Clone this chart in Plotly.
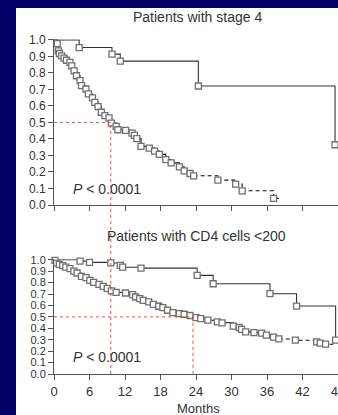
import plotly.graph_objects as go

# ---------------- data ----------------
# Top panel: Patients with stage 4
top_hi_months = [0, 4.25, 9.8, 11.2, 24.4, 47.5]
top_hi_surv = [1.0, 0.954, 0.914, 0.872, 0.721, 0.365]

top_lo_months = [0, 0.55, 0.73, 0.9, 1.3, 1.7, 2.1, 2.7, 3.0, 3.4, 3.8, 4.4, 4.65,
                 5.4, 5.8, 6.5, 6.9, 7.45, 8.0, 8.6, 9.3, 9.7, 10.5, 10.8, 12.1,
                 13.2, 13.6, 14.0, 14.7, 16.1, 17.0, 17.8, 18.9, 19.8, 21.2, 22.0,
                 23.0, 23.6, 27.7, 30.7, 31.8, 37.1]
top_lo_surv = [1.0, 0.978, 0.934, 0.918, 0.904, 0.89, 0.877, 0.864, 0.843, 0.813,
               0.783, 0.753, 0.723, 0.703, 0.673, 0.649, 0.622, 0.596, 0.562, 0.542,
               0.528, 0.496, 0.476, 0.456, 0.452, 0.436, 0.422, 0.402, 0.355, 0.345,
               0.327, 0.307, 0.275, 0.255, 0.231, 0.207, 0.191, 0.177, 0.151, 0.127,
               0.086, 0.04]
top_lo_tail = 38.0          # end of follow-up (censored tail)
top_dash_from = 23.6        # month after which curve is dashed
top_median = 9.6

# Bottom panel: Patients with CD4 cells <200
bot_hi_months = [0, 4.4, 6.0, 9.6, 11.2, 11.6, 14.7, 24.2, 26.9, 36.5, 41.0, 47.6]
bot_hi_surv = [1.0, 0.988, 0.977, 0.972, 0.95, 0.935, 0.927, 0.863, 0.79, 0.703,
               0.595, 0.296]

bot_lo_months = [0, 0.17, 0.45, 0.9, 1.46, 2.0, 2.7, 3.36, 3.9, 4.65, 5.4, 6.05,
                 6.7, 7.6, 8.3, 9.0, 9.7, 10.5, 12.1, 13.3, 13.8, 14.5, 15.1, 16.0,
                 16.8, 17.7, 18.4, 19.2, 20.1, 21.2, 22.0, 23.0, 24.0, 24.8, 26.0,
                 27.6, 28.4, 30.3, 31.3, 31.7, 32.4, 33.8, 35.1, 35.9, 37.1, 38.0,
                 40.8, 44.4, 45.0, 45.9]
bot_lo_surv = [1.0, 0.994, 0.971, 0.96, 0.948, 0.936, 0.922, 0.901, 0.884, 0.855,
               0.843, 0.82, 0.802, 0.785, 0.767, 0.75, 0.727, 0.715, 0.709, 0.695,
               0.674, 0.66, 0.645, 0.631, 0.61, 0.593, 0.581, 0.558, 0.538, 0.529,
               0.523, 0.512, 0.494, 0.485, 0.471, 0.456, 0.448, 0.419, 0.407, 0.39,
               0.369, 0.363, 0.357, 0.34, 0.322, 0.307, 0.296, 0.282, 0.27, 0.261]
bot_lo_tail = 47.2
bot_dash_from = 38.0
bot_median = 23.5

x_ticks = [0, 6, 12, 18, 24, 30, 36, 42, 48]
y_ticks = [0.0, 0.1, 0.2, 0.3, 0.4, 0.5, 0.6, 0.7, 0.8, 0.9, 1.0]

# ---------------- style ----------------
FONT = "Liberation Sans, Arial, sans-serif"
TXT = "#333333"
NAVY = "#000066"
AX = "#555555"
W, H = 338, 415
L = 54

def py2paper(py):
    return 1 - py / H

def px2paper(px):
    return (px - L) / (W - L)

top_dom = [py2paper(205), py2paper(39.3)]
bot_dom = [py2paper(374), py2paper(259.3)]

fig = go.Figure()

marker_fill = dict(symbol="square", size=6, color="white", line=dict(width=1.3, color="#707070"))

def add_curve(months, surv, xa, ya, color, dash_from=None, tail=None):
    if dash_from is None:
        fig.add_trace(go.Scatter(x=months, y=surv, mode="lines", line=dict(shape="hv", color=color, width=1.1),
                                 xaxis=xa, yaxis=ya, hoverinfo="skip", showlegend=False))
    else:
        k = months.index(dash_from)
        fig.add_trace(go.Scatter(x=months[:k + 1], y=surv[:k + 1], mode="lines",
                                 line=dict(shape="hv", color=color, width=1.1),
                                 xaxis=xa, yaxis=ya, hoverinfo="skip", showlegend=False))
        xs = months[k:] + ([tail] if tail is not None else [])
        ys = surv[k:] + ([surv[-1]] if tail is not None else [])
        fig.add_trace(go.Scatter(x=xs, y=ys, mode="lines",
                                 line=dict(shape="hv", color=color, width=1.1, dash="4px,3px"),
                                 xaxis=xa, yaxis=ya, hoverinfo="skip", showlegend=False))
    fig.add_trace(go.Scatter(x=months[1:], y=surv[1:], mode="markers", marker=marker_fill,
                             xaxis=xa, yaxis=ya, cliponaxis=False, hoverinfo="skip", showlegend=False))

add_curve(top_hi_months, top_hi_surv, "x", "y", "#333333")
add_curve(top_lo_months, top_lo_surv, "x", "y", "#111111", top_dash_from, top_lo_tail)
add_curve(bot_hi_months, bot_hi_surv, "x2", "y2", "#333333")
add_curve(bot_lo_months, bot_lo_surv, "x2", "y2", "#111111", bot_dash_from, bot_lo_tail)

RED = "rgba(255,40,40,0.85)"
red = dict(color=RED, width=1, dash="dot")
shapes = [
    # white panel
    dict(type="rect", xref="paper", yref="paper", x0=px2paper(16), x1=px2paper(345),
         y0=-0.02, y1=py2paper(8), fillcolor="white", line=dict(width=0), layer="below"),
    # top median lines
    dict(type="line", xref="x", yref="y", x0=0, x1=top_median, y0=0.5, y1=0.5, line=red),
    dict(type="line", xref="x", yref="paper", x0=top_median, x1=top_median,
         y0=bot_dom[0], y1=top_dom[0] + 0.5 * (top_dom[1] - top_dom[0]), line=red),
    # bottom median lines
    dict(type="line", xref="x2", yref="y2", x0=0, x1=bot_median, y0=0.5, y1=0.5, line=red),
    dict(type="line", xref="x2", yref="y2", x0=bot_median, x1=bot_median, y0=0.5, y1=0, line=red),
]

xcommon = dict(range=[0, 48], tickvals=x_ticks, ticks="outside", ticklen=5, tickcolor=AX,
               showline=True, linecolor=AX, linewidth=1, showgrid=False, zeroline=False,
               ticklabeloverflow="allow", automargin=False,
               tickfont=dict(family=FONT, size=13, color=TXT))
ycommon = dict(range=[0, 1.004], tickvals=y_ticks, tickformat=".1f", ticks="outside", ticklen=5,
               tickcolor=AX, showline=True, linecolor=AX, linewidth=1, showgrid=False,
               zeroline=False, automargin=False)

annotations = [
    dict(text="Patients with stage 4", x=px2paper(197.5), y=py2paper(16.5), xref="paper", yref="paper",
         showarrow=False, xanchor="center", yanchor="middle", font=dict(family=FONT, size=14, color=TXT)),
    dict(text="Patients with CD4 cells &lt;200", x=px2paper(196.7), y=py2paper(236), xref="paper", yref="paper",
         showarrow=False, xanchor="center", yanchor="middle", font=dict(family=FONT, size=14, color=TXT)),
    dict(text="<i>P</i> &lt; 0.0001", x=px2paper(71), y=py2paper(189), xref="paper", yref="paper",
         showarrow=False, xanchor="left", yanchor="middle", font=dict(family=FONT, size=14, color=TXT)),
    dict(text="<i>P</i> &lt; 0.0001", x=px2paper(71), y=py2paper(357), xref="paper", yref="paper",
         showarrow=False, xanchor="left", yanchor="middle", font=dict(family=FONT, size=14, color=TXT)),
    dict(text="Months", x=px2paper(198.5), y=py2paper(408), xref="paper", yref="paper",
         showarrow=False, xanchor="center", yanchor="middle", font=dict(family=FONT, size=13, color=TXT)),
]

fig.update_layout(
    width=W, height=H,
    margin=dict(l=L, r=0, t=0, b=0, pad=0, autoexpand=False),
    paper_bgcolor=NAVY, plot_bgcolor="white",
    showlegend=False,
    xaxis=dict(**xcommon, domain=[0, 1], anchor="y", showticklabels=False),
    yaxis=dict(**ycommon, domain=top_dom, anchor="x", tickfont=dict(family=FONT, size=12, color=TXT)),
    xaxis2=dict(**xcommon, domain=[0, 1], anchor="y2"),
    yaxis2=dict(**ycommon, domain=bot_dom, anchor="x2", tickfont=dict(family=FONT, size=11, color=TXT)),
    shapes=shapes,
    annotations=annotations,
)

fig.write_html(
    "out.html",
    config={"displayModeBar": False},
    post_script="document.body.style.margin='0';document.body.style.overflow='hidden';"
                "document.documentElement.style.overflow='hidden';",
)
